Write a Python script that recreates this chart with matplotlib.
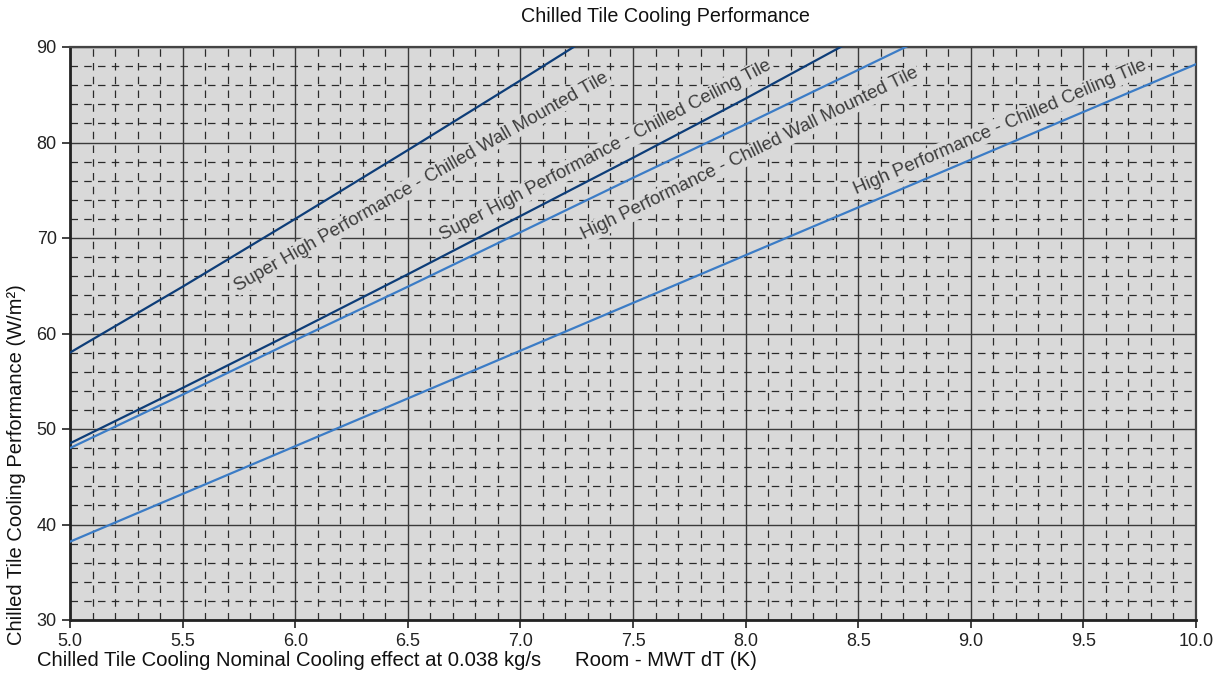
import matplotlib
matplotlib.use('Agg')
import matplotlib.pyplot as plt
from matplotlib.ticker import MultipleLocator
import numpy as np

plt.rcParams['font.family'] = ['Liberation Sans', 'DejaVu Sans']

# Room - MWT dT (K) sample points and read-off performance (W/m2)
dt_sh_wall = [5.0, 5.5, 6.0, 6.5, 7.0, 7.5]
perf_sh_wall = [58.0, 64.9, 72.0, 79.2, 86.5, 93.9]

dt_sh_ceiling = [5.0, 5.5, 6.0, 6.5, 7.0, 7.5, 8.0, 8.5]
perf_sh_ceiling = [48.5, 54.3, 60.2, 66.2, 72.3, 78.4, 84.6, 91.0]

dt_hp_wall = [5.0, 5.5, 6.0, 6.5, 7.0, 7.5, 8.0, 8.5, 9.0]
perf_hp_wall = [48.0, 53.6, 59.3, 64.9, 70.6, 76.3, 81.9, 87.6, 93.3]

dt_hp_ceiling = [5.0, 5.5, 6.0, 6.5, 7.0, 7.5, 8.0, 8.5, 9.0, 9.5, 10.0]
perf_hp_ceiling = [38.2, 43.2, 48.2, 53.2, 58.2, 63.2, 68.2, 73.2, 78.2, 83.2, 88.2]

labels = ['Super High Performance - Chilled Wall Mounted Tile',
          'Super High Performance - Chilled Ceiling Tile',
          'High Performance - Chilled Wall Mounted Tile',
          'High Performance - Chilled Ceiling Tile']

DARK = '#0d3d78'
BLUE = '#3b7cc6'
BG = '#d9d9d9'

fig = plt.figure(figsize=(12.19, 6.78), dpi=100)
ax = fig.add_axes([70 / 1219, 1 - 620 / 678, 1126 / 1219, 573 / 678])
ax.set_facecolor(BG)

ax.plot(dt_sh_wall, perf_sh_wall, color=DARK, lw=1.6, zorder=3)
ax.plot(dt_sh_ceiling, perf_sh_ceiling, color=DARK, lw=1.6, zorder=3)
ax.plot(dt_hp_wall, perf_hp_wall, color=BLUE, lw=1.6, zorder=3)
ax.plot(dt_hp_ceiling, perf_hp_ceiling, color=BLUE, lw=1.6, zorder=3)

ax.set_xlim(5, 10)
ax.set_ylim(30, 90)
ax.xaxis.set_major_locator(MultipleLocator(0.5))
ax.xaxis.set_minor_locator(MultipleLocator(0.1))
ax.yaxis.set_major_locator(MultipleLocator(10))
ax.yaxis.set_minor_locator(MultipleLocator(2))
ax.xaxis.set_major_formatter(matplotlib.ticker.FormatStrFormatter('%.1f'))

ax.grid(which='major', color='#3a3a3a', lw=1.0, ls='-', zorder=1)
ax.grid(which='minor', color='#2a2a2a', lw=0.9, ls=(0, (6, 5)), zorder=1)
ax.set_axisbelow(True)

ax.tick_params(which='major', direction='out', length=6, width=1.2,
               labelsize=13, colors='#222222')
ax.tick_params(which='minor', length=0)
for side in ['left', 'bottom']:
    ax.spines[side].set_linewidth(2.0)
    ax.spines[side].set_color('#222222')
for side in ['top', 'right']:
    ax.spines[side].set_linewidth(1.6)
    ax.spines[side].set_color('#444444')

# rotated curve labels
label_pos = [(6.56, 75.9, 29.6), (7.38, 79.2, 27.6), (8.02, 78.8, 26.0), (9.13, 81.6, 23.3)]
for txt, (lx, ly, rot) in zip(labels, label_pos):
    ax.text(lx, ly, txt, fontsize=13.3, color='#3c3c3c', rotation=rot,
            rotation_mode='anchor', ha='center', va='center', zorder=4,
            bbox=dict(facecolor=BG, edgecolor='none', pad=1.0))

fig.text(665 / 1219, 1 - 17 / 678, 'Chilled Tile Cooling Performance',
         fontsize=14.2, ha='center', va='center', color='#111111')
fig.text(17 / 1219, 1 - 465 / 678, 'Chilled Tile Cooling Performance (W/m²)',
         fontsize=14.5, rotation=90, ha='center', va='center', color='#111111')
fig.text(37 / 1219, 1 - 661 / 678,
         'Chilled Tile Cooling Nominal Cooling effect at 0.038 kg/s',
         fontsize=14.6, ha='left', va='center', color='#111111')
fig.text(575 / 1219, 1 - 661 / 678, 'Room - MWT dT (K)',
         fontsize=14.6, ha='left', va='center', color='#111111')

fig.savefig('out.png', dpi=100)
